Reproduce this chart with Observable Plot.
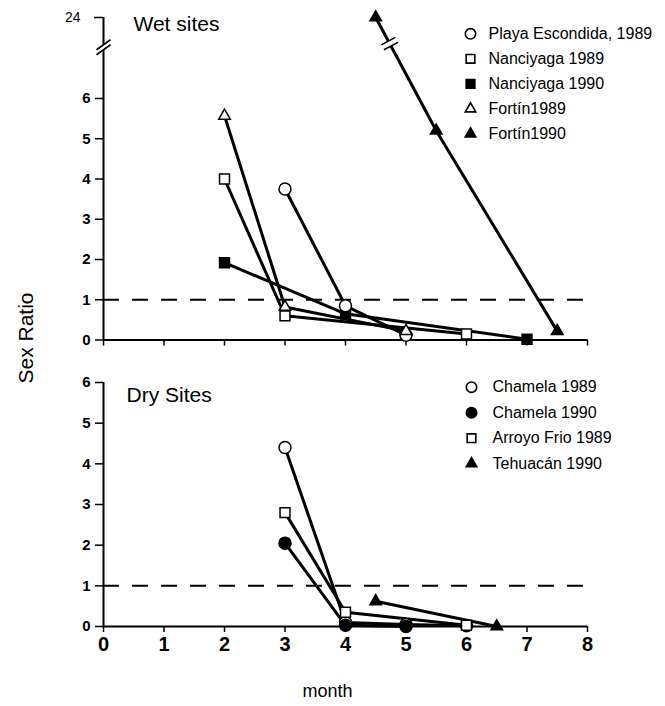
<!DOCTYPE html>
<html>
<head>
<meta charset="utf-8">
<script src="https://cdn.jsdelivr.net/npm/d3@7"></script>
<script src="https://cdn.jsdelivr.net/npm/@observablehq/plot@0.6"></script>
<style>
  body { margin: 0; background: #fff; }
  #fig { position: relative; width: 665px; height: 706px; font-family: "Liberation Sans", Arial, Helvetica, sans-serif; color: #000; }
  #fig svg { position: absolute; left: 0; overflow: visible; background: none; }
  #ylab { position: absolute; left: 26px; top: 338px; transform: translate(-50%, -50%) rotate(-90deg); font-size: 21px; white-space: nowrap; }
</style>
</head>
<body>
<div id="fig"><div id="ylab">Sex Ratio</div></div>
<script>
// ---------- data ----------
const monthTicks = [0, 1, 2, 3, 4, 5, 6, 7, 8];
const wetRatioTicks = [0, 1, 2, 3, 4, 5, 6];
const wetBreakTick = [24];
const dryRatioTicks = [0, 1, 2, 3, 4, 5, 6];
const unityRatio = [1];

// Wet sites
const wetNames = ["Playa Escondida, 1989", "Nanciyaga 1989", "Nanciyaga 1990", "Fortín1989", "Fortín1990"];
const playa89Month = [3, 4, 5];       const playa89Ratio = [3.75, 0.85, 0.12];
const nanci89Month = [2, 3, 6];       const nanci89Ratio = [4.0, 0.6, 0.15];
const nanci90Month = [2, 4, 7];       const nanci90Ratio = [1.92, 0.65, 0.02];
const fortin89Month = [2, 3, 5];      const fortin89Ratio = [5.57, 0.82, 0.22];
const fortin90Month = [4.5, 5.5, 7.5]; const fortin90Ratio = [24, 5.2, 0.22];

// Dry sites
const dryNames = ["Chamela 1989", "Chamela 1990", "Arroyo Frio 1989", "Tehuacán 1990"];
const chamela89Month = [3, 4, 5, 6];  const chamela89Ratio = [4.4, 0.1, 0.05, 0.02];
const chamela90Month = [3, 4, 5];     const chamela90Ratio = [2.05, 0.03, 0.0];
const arroyo89Month = [3, 4, 6];      const arroyo89Ratio = [2.8, 0.35, 0.03];
const tehuacan90Month = [4.5, 6.5];   const tehuacan90Ratio = [0.62, 0.0];

// axis-break positions (month, ratio) in the wet panel
const breakMonth = [0, 4.73];
const breakRatio = [17.5, 18.2];

// ---------- helpers ----------
const rows = (name, ms, rs) => ms.map((m, i) => ({series: name, month: m, ratio: rs[i]}));
const R = {circle: 6, square: 5.6, triangle: 4.3};
const LR = {circle: 5.2, square: 4.9, triangle: 3.9};

const wet = [
  {name: wetNames[0], data: rows(wetNames[0], playa89Month, playa89Ratio), symbol: "circle", filled: false},
  {name: wetNames[1], data: rows(wetNames[1], nanci89Month, nanci89Ratio), symbol: "square", filled: false},
  {name: wetNames[2], data: rows(wetNames[2], nanci90Month, nanci90Ratio), symbol: "square", filled: true},
  {name: wetNames[3], data: rows(wetNames[3], fortin89Month, fortin89Ratio), symbol: "triangle", filled: false},
  {name: wetNames[4], data: rows(wetNames[4], fortin90Month, fortin90Ratio), symbol: "triangle", filled: true}
];
const wetDrawOrder = [2, 0, 1, 3, 4];

const dry = [
  {name: dryNames[0], data: rows(dryNames[0], chamela89Month, chamela89Ratio), symbol: "circle", filled: false},
  {name: dryNames[1], data: rows(dryNames[1], chamela90Month, chamela90Ratio), symbol: "circle", filled: true},
  {name: dryNames[2], data: rows(dryNames[2], arroyo89Month, arroyo89Ratio), symbol: "square", filled: false},
  {name: dryNames[3], data: rows(dryNames[3], tehuacan90Month, tehuacan90Ratio), symbol: "triangle", filled: true}
];
const dryDrawOrder = [0, 2, 1, 3];

const lineMarks = (set) => set.map(s => Plot.line(s.data, {x: "month", y: "ratio", stroke: "black", strokeWidth: 3}));
const dotMarks = (set, order) => order.map(i => {
  const s = set[i];
  return Plot.dot(s.data, {x: "month", y: "ratio", symbol: s.symbol, r: R[s.symbol],
    fill: s.filled ? "black" : "white", stroke: "black", strokeWidth: 1.5});
});
const legendMarks = (set, x0, y0, step, textGap) => set.flatMap((s, i) => [
  Plot.dot([0], {frameAnchor: "top-left", dx: x0, dy: y0 + i * step, symbol: s.symbol, r: LR[s.symbol],
    fill: s.filled ? "black" : "white", stroke: "black", strokeWidth: 1.6}),
  Plot.text([s.name], {frameAnchor: "top-left", dx: x0 + textGap, dy: y0 + i * step, text: d => d,
    textAnchor: "start", lineAnchor: "middle", fontSize: 16, fill: "black"})
]);

// break symbols
const axisBreakFill = {draw(c) { c.moveTo(-7, 3); c.lineTo(7, -7); c.lineTo(7, -2); c.lineTo(-7, 8); c.closePath(); }};
const axisBreakLines = {draw(c) { c.moveTo(-7, 3); c.lineTo(7, -7); c.moveTo(-7, 8); c.lineTo(7, -2); }};
const ux = 0.467, uy = 0.884, nx = 0.884, ny = -0.467;
const lbPts = (k) => { const cx = k * 2.8 * ux, cy = k * 2.8 * uy; return [[cx - 8 * nx, cy - 8 * ny], [cx + 8 * nx, cy + 8 * ny]]; };
const lineBreakFill = {draw(c) { const a = lbPts(-1), b = lbPts(1); c.moveTo(...a[0]); c.lineTo(...a[1]); c.lineTo(...b[1]); c.lineTo(...b[0]); c.closePath(); }};
const lineBreakLines = {draw(c) { const a = lbPts(-1), b = lbPts(1); c.moveTo(...a[0]); c.lineTo(...a[1]); c.moveTo(...b[0]); c.lineTo(...b[1]); }};
const breaks = breakMonth.map((m, i) => ({month: m, ratio: breakRatio[i]}));

const fig = document.getElementById("fig");
const W = 665;
const font = '"Liberation Sans", Arial, Helvetica, sans-serif';
const intFmt = d => String(d);

// ---------- wet panel ----------
const topH = 350, topMT = 17, topMB = 10.5, topML = 103, topMR = 78;
const topPlot = Plot.plot({
  width: W, height: topH,
  marginTop: topMT, marginBottom: topMB, marginLeft: topML, marginRight: topMR,
  style: {fontFamily: font, fontSize: "15px", color: "black", background: "none", overflow: "visible"},
  x: {type: "linear", domain: [0, 8]},
  y: {type: "linear", domain: [0, 6, 24], range: [topH - topMB, 98, topMT]},
  marks: [
    Plot.ruleY(unityRatio, {x1: 0, x2: 8, stroke: "black", strokeWidth: 2, strokeDasharray: "16,13"}),
    Plot.ruleX([0], {y1: 0, y2: 24, stroke: "black", strokeWidth: 2}),
    Plot.ruleY([0], {x1: 0, x2: 8, stroke: "black", strokeWidth: 2}),
    Plot.axisY({ticks: wetRatioTicks, tickFormat: intFmt, tickSize: 8, tickPadding: 5, strokeWidth: 1.5,
      fontSize: 15, fontWeight: "bold", label: null}),
    Plot.axisY({ticks: wetBreakTick, tickFormat: intFmt, tickSize: 9, tickPadding: 14, strokeWidth: 1.5, fontSize: 14, label: null}),
    Plot.axisX({ticks: monthTicks, tickSize: 6, strokeWidth: 1.5, tickFormat: () => "", label: null}),
    lineMarks(wet),
    Plot.dot(breaks.slice(0, 1), {x: "month", y: "ratio", symbol: axisBreakFill, r: 5, fill: "white", stroke: "none"}),
    Plot.dot(breaks.slice(0, 1), {x: "month", y: "ratio", symbol: axisBreakLines, r: 5, fill: "none", stroke: "black", strokeWidth: 1.6}),
    Plot.dot(breaks.slice(1), {x: "month", y: "ratio", symbol: lineBreakFill, r: 5, fill: "white", stroke: "none"}),
    Plot.dot(breaks.slice(1), {x: "month", y: "ratio", symbol: lineBreakLines, r: 5, fill: "none", stroke: "black", strokeWidth: 1.6}),
    dotMarks(wet, wetDrawOrder),
    Plot.text(["Wet sites"], {frameAnchor: "top-left", dx: 30, dy: 13, text: d => d, textAnchor: "start",
      lineAnchor: "bottom", fontSize: 21, fill: "black"}),
    legendMarks(wet, 367, 16.3, 25, 18)
  ]
});
topPlot.style.top = "0px";
fig.appendChild(topPlot);

// ---------- dry panel ----------
const botTop = 350, botH = 356, botMT = 32, botMB = 80;
const botPlot = Plot.plot({
  width: W, height: botH,
  marginTop: botMT, marginBottom: botMB, marginLeft: topML, marginRight: topMR,
  style: {fontFamily: font, fontSize: "15px", color: "black", background: "none", overflow: "visible"},
  x: {type: "linear", domain: [0, 8]},
  y: {type: "linear", domain: [0, 6]},
  marks: [
    Plot.ruleY(unityRatio, {x1: 0, x2: 8, stroke: "black", strokeWidth: 2, strokeDasharray: "16,13"}),
    Plot.ruleX([0], {y1: 0, y2: 6, stroke: "black", strokeWidth: 2}),
    Plot.ruleY([0], {x1: 0, x2: 8, stroke: "black", strokeWidth: 2}),
    Plot.axisY({ticks: dryRatioTicks, tickFormat: intFmt, tickSize: 8, tickPadding: 5, strokeWidth: 1.5,
      fontSize: 15, fontWeight: "bold", label: null}),
    Plot.axisX({ticks: monthTicks, tickFormat: intFmt, tickSize: 6, tickPadding: 4, strokeWidth: 1.5,
      fontSize: 20, fontWeight: "bold", label: null}),
    lineMarks(dry),
    dotMarks(dry, dryDrawOrder),
    Plot.text(["Dry Sites"], {frameAnchor: "top-left", dx: 23, dy: 19, text: d => d, textAnchor: "start",
      lineAnchor: "bottom", fontSize: 21, fill: "black"}),
    Plot.text(["month"], {frameAnchor: "bottom", dx: -18, dy: 70, text: d => d, lineAnchor: "bottom",
      fontSize: 18, fill: "black"}),
    legendMarks(dry, 368, 4.7, 25.5, 21)
  ]
});
botPlot.style.top = botTop + "px";
fig.appendChild(botPlot);
</script>
</body>
</html>
